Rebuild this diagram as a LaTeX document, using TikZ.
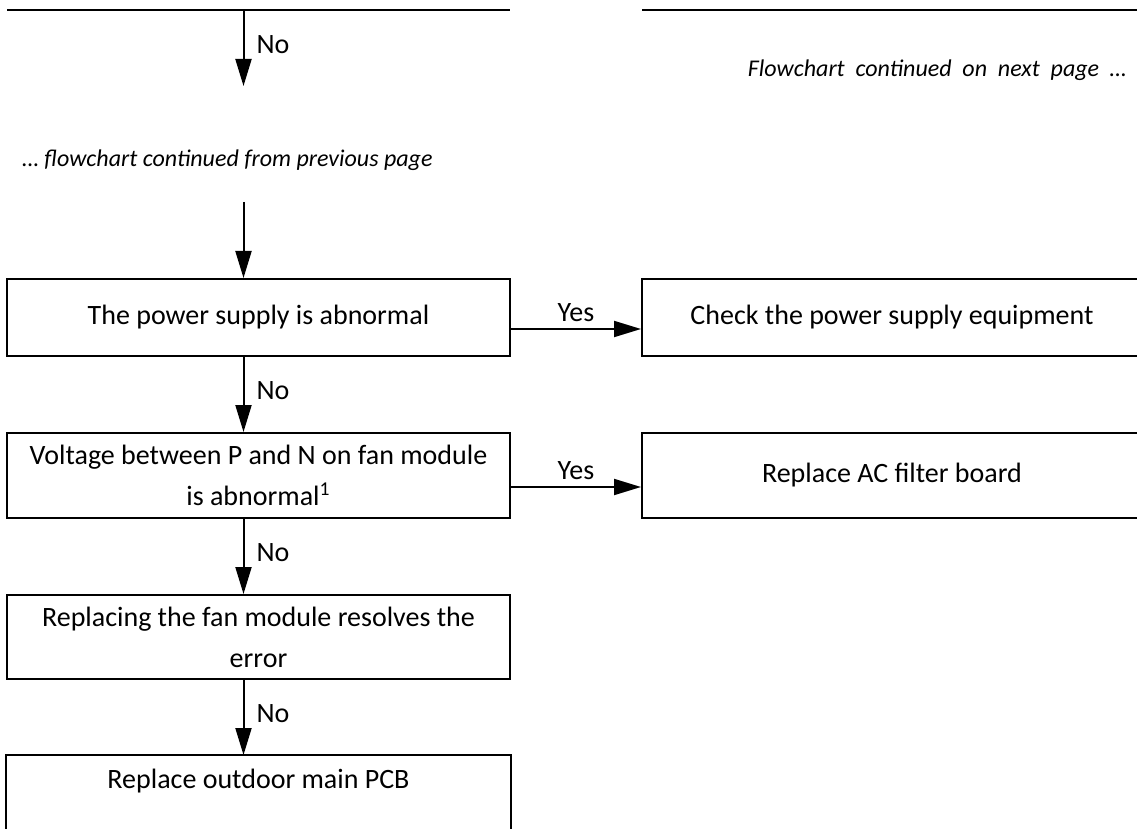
\documentclass[tikz,border=0pt]{standalone}
\usepackage{fontspec}
\setmainfont{Carlito}
\newfontfamily\notefont[WordSpace=2.0]{Carlito}
\usepackage{tikz}
\usetikzlibrary{positioning,calc,arrows.meta}
\tikzset{
  >={Triangle[length=13.5pt,width=8pt]},
  every node/.style={font=\fontsize{14pt}{20.5pt}\selectfont},
  % --- nodes
  box/.style   = {draw, line width=1pt, rectangle, align=center, inner sep=0pt,
                  minimum width=251.5pt},
  side/.style  = {box, minimum width=250pt},
  lbl/.style   = {inner sep=2pt},
  note/.style  = {inner sep=0pt, font=\itshape\fontsize{12pt}{14pt}\selectfont},
  widenote/.style = {note, font=\notefont\itshape\fontsize{12pt}{14pt}\selectfont},
  % --- edges
  flow/.style  = {->, line width=1pt},
  rule/.style  = {line width=1pt},
}

\begin{document}
\begin{tikzpicture}[x=0.5pt, y=-0.5pt]
  \useasboundingbox (0,0) rectangle (1137,829);
  \clip (0,0) rectangle (1137,829);

  % ------------------------------------------------ end of previous page
  \draw[rule] (7,10) -- (510,10);
  \draw[rule] (642,10) -- (1137,10);
  \coordinate (cut) at (243.5,10);
  \coordinate (gap) at (243.5,86);
  \draw[flow] (cut) -- node[lbl, right=4pt, pos=0.45] {No} (gap);

  \node[widenote, anchor=east] (nextpg) at (1127,70)
    {Flowchart continued on next page …};
  \node[note, anchor=west] (prevpg) at (22,160)
    {… flowchart continued from previous page};

  % ------------------------------------------------ boxes
  \node[box, minimum height=38.5pt] (power) at (258.5,317.5)
    {The power supply is abnormal};
  \node[side, minimum height=38.5pt] (check) at (892,317.5)
    {Check the power supply equipment};
  \node[box, minimum height=42.5pt] (volt) at (258.5,475.5)
    {Voltage between P and N on fan module\\is abnormal\textsuperscript{1}};
  \node[side, minimum height=42.5pt] (filter) at (892,475.5)
    {Replace AC filter board};
  \node[box, minimum height=42pt] (fan) at (258.5,637)
    {Replacing the fan module resolves the\\error};
  \node[box, draw=none, minimum height=25pt] (pcb) at (258.5,781)
    {Replace outdoor main PCB};
  \coordinate (foot) at (0,850);
  \draw[rule] (pcb.west |- foot) -- (pcb.north west) -- (pcb.north east)
    -- (pcb.east |- foot);

  % ------------------------------------------------ connectors
  \coordinate (resume) at (243.5,202);
  \draw[flow] (resume) -- (power.north -| resume);

  \draw[flow] ($(power.south)+(-15,0)$) -- node[lbl, right=4pt, pos=0.45] {No}
    ($(volt.north)+(-15,0)$);
  \draw[flow] ($(volt.south)+(-15,0)$) -- node[lbl, right=4pt, pos=0.45] {No}
    ($(fan.north)+(-15,0)$);
  \draw[flow] ($(fan.south)+(-15,0)$) -- node[lbl, right=4pt, pos=0.45] {No}
    ($(pcb.north)+(-15,0)$);

  \draw[flow] ($(power.east)+(0,11.5)$) -- node[lbl, above=1pt] {Yes}
    ($(check.west)+(0,11.5)$);
  \draw[flow] ($(volt.east)+(0,11.5)$) -- node[lbl, above=1pt] {Yes}
    ($(filter.west)+(0,11.5)$);
\end{tikzpicture}
\end{document}
